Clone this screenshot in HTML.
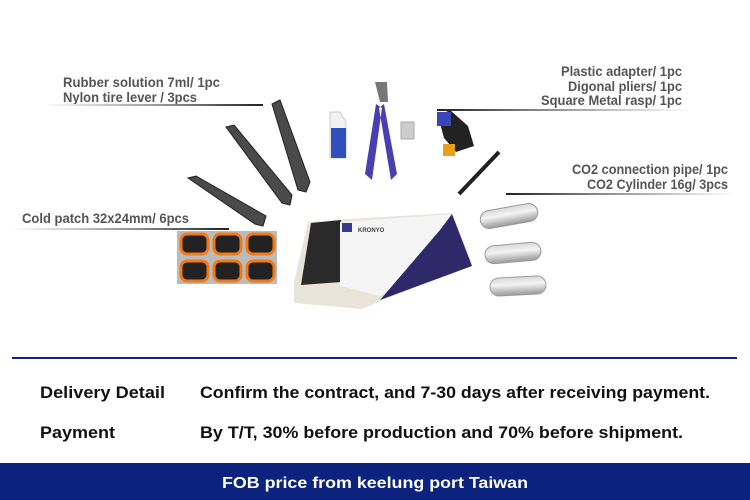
<!DOCTYPE html>
<html><head><meta charset="utf-8"><style>
html,body{margin:0;padding:0;background:#fff}
svg{display:block}
</style></head><body>
<svg width="750" height="500" viewBox="0 0 750 500" xmlns="http://www.w3.org/2000/svg" font-family="Liberation Sans, sans-serif" font-weight="bold">
<defs>
<linearGradient id="gl" x1="0" x2="1"><stop offset="0" stop-color="#fff"/><stop offset="0.6" stop-color="#888"/><stop offset="1" stop-color="#222"/></linearGradient>
<linearGradient id="gr" x1="0" x2="1"><stop offset="0" stop-color="#222"/><stop offset="0.4" stop-color="#888"/><stop offset="1" stop-color="#fff"/></linearGradient>
<linearGradient id="cyl" x1="0" y1="0" x2="0" y2="1"><stop offset="0" stop-color="#d8d8d8"/><stop offset="0.4" stop-color="#f4f4f4"/><stop offset="1" stop-color="#999"/></linearGradient>
</defs>
<g fill="#555" font-size="14">
<text x="63" y="87" textLength="157" lengthAdjust="spacingAndGlyphs">Rubber solution 7ml/ 1pc</text>
<text x="63" y="102" textLength="134" lengthAdjust="spacingAndGlyphs">Nylon tire lever / 3pcs</text>
<text x="561" y="76" textLength="121" lengthAdjust="spacingAndGlyphs">Plastic adapter/ 1pc</text>
<text x="568" y="91" textLength="114" lengthAdjust="spacingAndGlyphs">Digonal pliers/ 1pc</text>
<text x="541" y="105" textLength="141" lengthAdjust="spacingAndGlyphs">Square Metal rasp/ 1pc</text>
<text x="572" y="174" textLength="156" lengthAdjust="spacingAndGlyphs">CO2 connection pipe/ 1pc</text>
<text x="587" y="189" textLength="141" lengthAdjust="spacingAndGlyphs">CO2 Cylinder 16g/ 3pcs</text>
<text x="22" y="223" textLength="167" lengthAdjust="spacingAndGlyphs">Cold patch 32x24mm/ 6pcs</text>
</g>
<rect x="45" y="104" width="218" height="2" fill="url(#gl)"/>
<rect x="437" y="109" width="255" height="2" fill="url(#gr)"/>
<rect x="506" y="193" width="230" height="2" fill="url(#gr)"/>
<rect x="12" y="228" width="217" height="2" fill="url(#gl)"/>
<g fill="#4a4a4a" stroke="#222" stroke-width="1">
<path d="M272 104 l8 -4 l30 82 l-4 10 l-8 -2 z"/>
<path d="M226 127 l8 -2 l58 70 l-2 10 l-8 -2 z"/>
<path d="M188 178 l8 -2 l70 40 l-3 10 l-8 -2 z"/>
</g>
<path d="M330 112 h10 l6 10 v36 h-16 z" fill="#f2f2f2" stroke="#ccc"/>
<rect x="331" y="128" width="15" height="30" fill="#2f4fbf"/>
<path d="M375 82 l5 20 l8 0 l-1 -20 z" fill="#777"/>
<path d="M376 104 l-11 70 l7 6 l10 -72 z M384 104 l13 70 l-6 6 l-12 -72 z" fill="#4a3fb0"/>
<rect x="401" y="122" width="13" height="17" fill="#ccc" stroke="#aaa"/>
<path d="M438 116 l12 -6 l18 16 l6 20 l-18 6 l-12 -14 z" fill="#222"/>
<rect x="437" y="112" width="14" height="14" fill="#3a46b8"/>
<rect x="443" y="144" width="12" height="12" fill="#e8a018"/>
<path d="M459 194 l40 -42" stroke="#222" stroke-width="4"/>
<rect x="177" y="231" width="100" height="53" fill="#bbb"/>
<g fill="#222" stroke="#f07a1a" stroke-width="3">
<rect x="181" y="234" width="27" height="20" rx="6"/><rect x="214" y="234" width="27" height="20" rx="6"/><rect x="247" y="234" width="27" height="20" rx="6"/>
<rect x="181" y="261" width="27" height="20" rx="6"/><rect x="214" y="261" width="27" height="20" rx="6"/><rect x="247" y="261" width="27" height="20" rx="6"/>
</g>
<path d="M294 282 l14 -60 l40 -3 l104 -6 l20 50 l-110 46 l-68 -6 z" fill="#e8e4d8"/>
<path d="M301 285 l10 -62 l30 -3 l0 62 z" fill="#2a2a2a"/>
<path d="M340 222 l112 -8 l8 22 l-80 60 l-40 -10 z" fill="#f5f5f5"/>
<path d="M380 300 l60 -70 l12 -16 l20 52 z" fill="#2e2a6a"/>
<text x="358" y="232" font-size="6" fill="#444">KRONYO</text>
<rect x="342" y="223" width="10" height="9" fill="#3a3a8a"/>
<g fill="url(#cyl)" stroke="#999">
<rect x="480" y="207" width="58" height="18" rx="9" transform="rotate(-10 509 216)"/>
<rect x="485" y="244" width="56" height="18" rx="9" transform="rotate(-5 513 253)"/>
<rect x="490" y="277" width="56" height="18" rx="9" transform="rotate(-3 518 286)"/>
</g>
<rect x="12" y="357" width="725" height="2" fill="#0a237f"/>
<g fill="#111" font-size="17">
<text x="40" y="398" textLength="125" lengthAdjust="spacingAndGlyphs">Delivery Detail</text>
<text x="200" y="398" textLength="510" lengthAdjust="spacingAndGlyphs">Confirm the contract, and 7-30 days after receiving payment.</text>
<text x="40" y="438" textLength="75" lengthAdjust="spacingAndGlyphs">Payment</text>
<text x="200" y="438" textLength="483" lengthAdjust="spacingAndGlyphs">By T/T, 30% before production and 70% before shipment.</text>
</g>
<rect x="0" y="463" width="750" height="37" fill="#0b237d"/>
<text x="375" y="488" font-size="16" fill="#fff" text-anchor="middle" textLength="306" lengthAdjust="spacingAndGlyphs">FOB price from keelung port Taiwan</text>
</svg>
</body></html>
